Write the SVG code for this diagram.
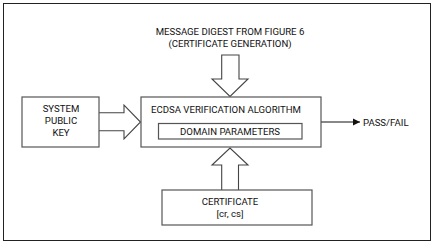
<svg xmlns="http://www.w3.org/2000/svg" width="433" height="245" viewBox="0 0 433 245">
<defs>
<style>
.t{font-family:Roboto,"Liberation Sans",sans-serif;font-size:9.6px;fill:#111;text-anchor:middle}
.b{fill:#fff;stroke:#555;stroke-width:1.2}
.a{fill:#fff;stroke:#444;stroke-width:1.1;stroke-linejoin:miter}
</style>
<marker id="ah" markerWidth="8" markerHeight="8" refX="7" refY="4" orient="auto" markerUnits="userSpaceOnUse">
<path d="M0,0.5 L7,4 L0,7.5 Z" fill="#111"/>
</marker>
</defs>
<rect x="0" y="0" width="433" height="245" fill="#fff"/>
<rect x="3.5" y="3.5" width="427" height="237" fill="none" stroke="#222" stroke-width="1"/>
<g id="connectors">
<path class="a" d="M99,112.7 H124 V105 L140.5,122 L124,139 V130.7 H99"/>
<path class="a" d="M221.7,55 V79 H212 L230,96.5 L248,79 H239 V55 Z"/>
<path class="a" d="M221.7,190 V165 H212 L230,148 L248,165 H238.5 V190"/>
<line x1="321" y1="122" x2="360" y2="122" stroke="#111" stroke-width="1" marker-end="url(#ah)"/>
</g>
<g id="digest">
<text class="t" x="230" y="35.3">MESSAGE DIGEST FROM FIGURE 6</text>
<text class="t" x="230" y="47">(CERTIFICATE GENERATION)</text>
</g>
<g id="ecdsa">
<rect class="b" x="141" y="97" width="180" height="50"/>
<text class="t" x="226" y="113">ECDSA VERIFICATION ALGORITHM</text>
</g>
<g id="domain">
<rect class="b" x="158.5" y="123.5" width="143.5" height="15.5"/>
<text class="t" x="230" y="134.5">DOMAIN PARAMETERS</text>
</g>
<g id="syskey">
<rect class="b" x="22" y="97" width="77" height="50"/>
<text class="t" x="61" y="112">SYSTEM</text>
<text class="t" x="61" y="124">PUBLIC</text>
<text class="t" x="61" y="136">KEY</text>
</g>
<g id="certificate">
<rect class="b" x="162" y="190" width="150" height="35"/>
<text class="t" x="230" y="204.5">CERTIFICATE</text>
<text class="t" x="230" y="216.5">[cr, cs]</text>
</g>
<g id="passfail">
<text class="t" x="363" y="126" style="text-anchor:start">PASS/FAIL</text>
</g>
</svg>
